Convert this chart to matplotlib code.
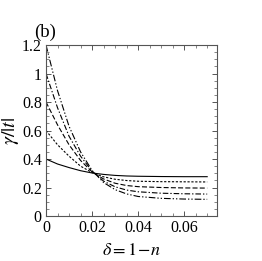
import matplotlib
matplotlib.use("Agg")
import matplotlib.pyplot as plt
from matplotlib.ticker import MultipleLocator, FixedLocator

plt.rcParams['font.family'] = ['Liberation Serif', 'DejaVu Serif']
plt.rcParams['mathtext.fontset'] = 'stix'

delta = [0, 0.005, 0.01, 0.015, 0.02, 0.025, 0.03, 0.035, 0.04, 0.05, 0.06, 0.07]
g04 = [0.40, 0.365, 0.34, 0.318, 0.302, 0.292, 0.285, 0.281, 0.279, 0.277, 0.276, 0.276]
g06 = [0.60, 0.50, 0.42, 0.35, 0.305, 0.275, 0.258, 0.249, 0.244, 0.241, 0.240, 0.239]
g08 = [0.80, 0.64, 0.50, 0.39, 0.31, 0.26, 0.23, 0.214, 0.206, 0.200, 0.197, 0.196]
g10 = [1.00, 0.76, 0.56, 0.42, 0.315, 0.245, 0.205, 0.182, 0.170, 0.160, 0.156, 0.154]
g12 = [1.20, 0.88, 0.63, 0.45, 0.32, 0.235, 0.185, 0.155, 0.137, 0.124, 0.119, 0.117]

xticks = [0, 0.02, 0.04, 0.06]
xticklabels = ['0', '0.02', '0.04', '0.06']
yticks = [0, 0.2, 0.4, 0.6, 0.8, 1.0, 1.2]
yticklabels = ['0', '0.2', '0.4', '0.6', '0.8', '1', '1.2']

fig = plt.figure(figsize=(2.62, 2.61), dpi=100)
ax = fig.add_axes([0.1756, 0.1724, 0.653, 0.655])

lw = 0.8
ax.plot(delta, g04, color='black', lw=lw, linestyle='-')
ax.plot(delta, g06, color='black', lw=lw, linestyle=(0, (2, 1.5)))
ax.plot(delta, g08, color='black', lw=lw, linestyle=(0, (4.5, 2)))
ax.plot(delta, g10, color='black', lw=lw, linestyle=(0, (5, 1.8, 1.2, 1.8)))
ax.plot(delta, g12, color='black', lw=lw, linestyle=(0, (6, 1.8, 1.2, 1.8, 1.2, 1.8)))

ax.set_xlim(0, 0.0743)
ax.set_ylim(0, 1.2)
ax.xaxis.set_major_locator(FixedLocator(xticks))
ax.set_xticklabels(xticklabels)
ax.yaxis.set_major_locator(FixedLocator(yticks))
ax.set_yticklabels(yticklabels)
ax.xaxis.set_minor_locator(MultipleLocator(0.005))
ax.yaxis.set_minor_locator(MultipleLocator(0.05))
ax.tick_params(which='both', direction='in', top=True, right=True, labelsize=11.5, pad=3, color='#555555')
ax.tick_params(which='major', length=3.5, width=0.7)
ax.tick_params(which='minor', length=2, width=0.5)
for s in ax.spines.values():
    s.set_color('#555555')
    s.set_linewidth(0.8)

ax.set_xlabel(r'$\delta=1\!-\!n$', fontsize=13, labelpad=4)
ax.set_ylabel(r'$\gamma/|t|$', fontsize=14.5, labelpad=1)
fig.text(0.172, 0.877, '(b)', fontsize=13.5, ha='center', va='center')

fig.savefig('out.png', dpi=100)
